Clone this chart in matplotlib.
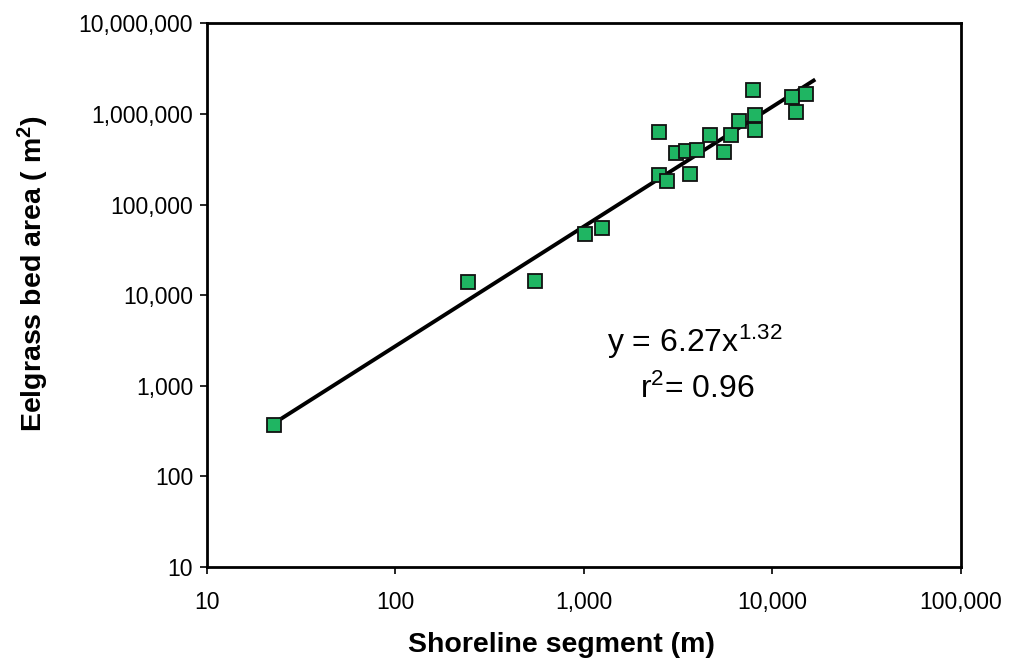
import matplotlib
matplotlib.use("Agg")
import matplotlib.pyplot as plt
import matplotlib.ticker as mticker
import numpy as np

plt.rcParams['font.family'] = ['Liberation Sans', 'DejaVu Sans']
plt.rcParams['mathtext.fontset'] = 'custom'
plt.rcParams['mathtext.rm'] = 'Liberation Sans'
plt.rcParams['mathtext.it'] = 'Liberation Sans'
plt.rcParams['mathtext.bf'] = 'Liberation Sans:bold'

# shoreline segment length (m) and eelgrass bed area (m2)
shore = [22.6, 244, 553, 1018, 1254, 2512, 2770, 3665, 2512, 3090, 3490,
         3990, 4677, 5548, 6040, 6668, 8110, 8110, 7910, 12740, 13370, 15100]
area = [372, 13900, 14300, 46800, 54500, 213800, 183600, 219000, 634000,
        372000, 392000, 402000, 588000, 382000, 588000, 837000, 975000,
        667000, 1836000, 1538000, 1052000, 1660000]

fit_a = 6.27
fit_b = 1.32
fit_end = 16600

x_ticks = [10, 100, 1000, 10000, 100000]
y_ticks = [10, 100, 1000, 10000, 100000, 1000000, 10000000]

fig = plt.figure(figsize=(10.1, 6.64), dpi=100)
ax = fig.add_axes([0.205, 0.146, 0.746, 0.819])

xf = np.array([min(shore), fit_end])
ax.plot(xf, fit_a * xf ** fit_b, color='black', lw=2.8, zorder=2)

ax.plot(shore, area, linestyle='None', marker='s', markersize=10.5,
        markerfacecolor='#1fb562', markeredgecolor='#111111',
        markeredgewidth=1.3, zorder=3)

ax.set_xscale('log')
ax.set_yscale('log')
ax.set_xlim(10, 100000)
ax.set_ylim(10, 10000000)
ax.set_xticks(x_ticks)
ax.set_yticks(y_ticks)
fmt = mticker.FuncFormatter(lambda v, p: f'{int(round(v)):,}')
ax.xaxis.set_major_formatter(fmt)
ax.yaxis.set_major_formatter(fmt)
ax.xaxis.set_minor_locator(mticker.NullLocator())
ax.yaxis.set_minor_locator(mticker.NullLocator())
ax.tick_params(direction='out', length=5, width=1.2, labelsize=16.5,
               colors='black')
ax.tick_params(axis='x', pad=12)
ax.tick_params(axis='y', pad=5)

for s in ax.spines.values():
    s.set_linewidth(2)

ax.set_xlabel('Shoreline segment (m)', fontsize=20.5, fontweight='bold',
              labelpad=13)
ax.set_ylabel('Eelgrass bed area ( m$^{\\mathbf{2}}$)', fontsize=20.5,
              fontweight='bold', labelpad=20)
ax.xaxis.label.set_x(0.47)
ax.yaxis.label.set_y(0.54)

ax.text(0.647, 0.415, 'y = 6.27x$^{1.32}$', transform=ax.transAxes,
        fontsize=23, ha='center', va='center')
ax.text(0.651, 0.327, 'r$^{2}$= 0.96', transform=ax.transAxes,
        fontsize=23, ha='center', va='center')

fig.savefig('out.png', dpi=100)
